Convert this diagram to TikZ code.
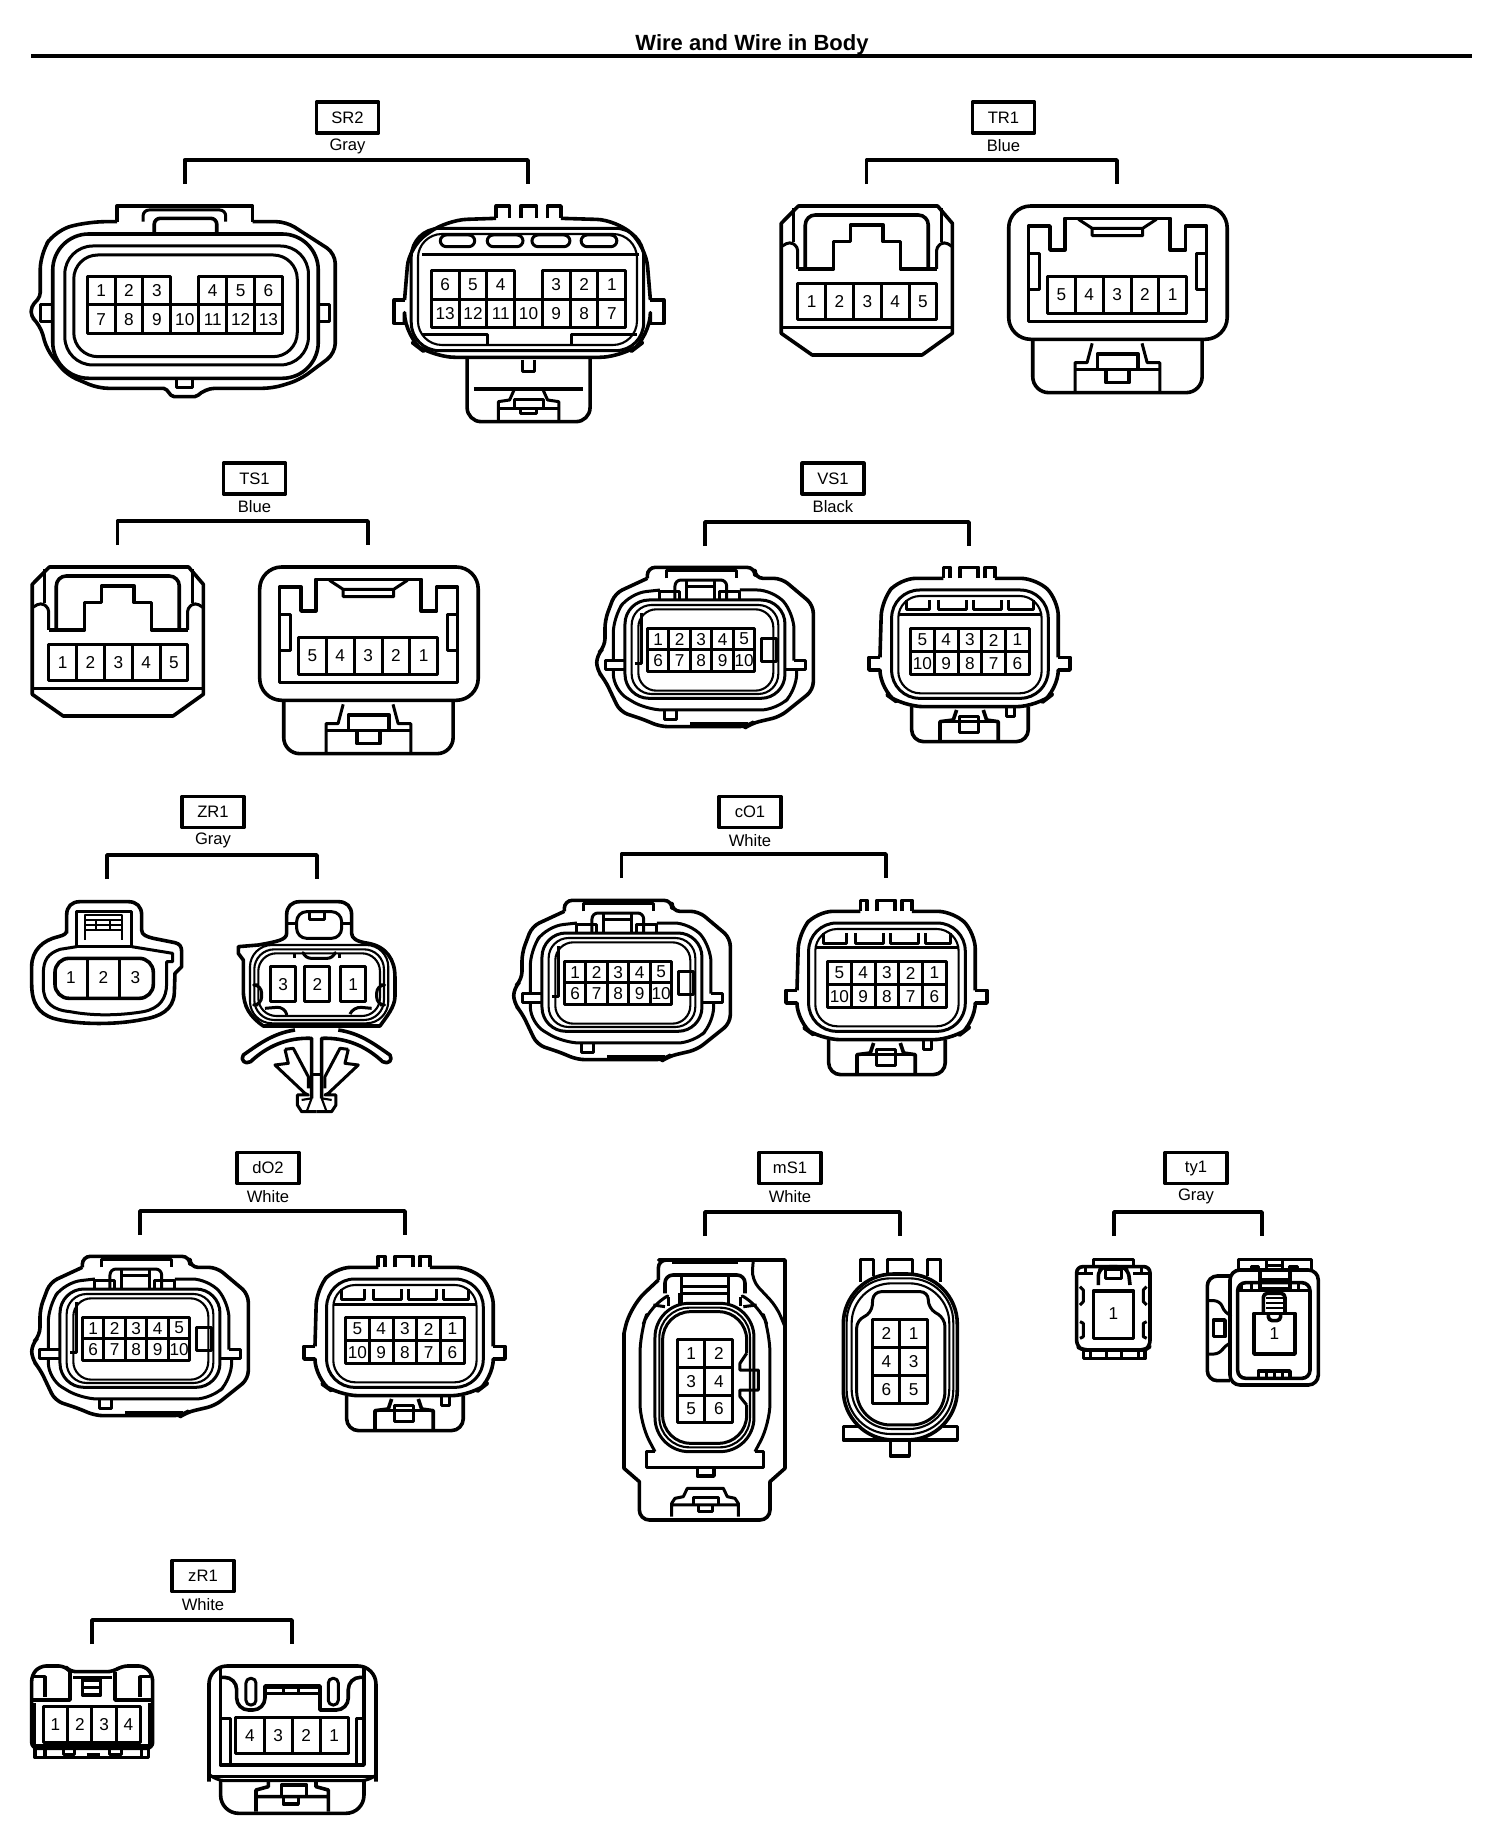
\documentclass[tikz,border=0pt]{standalone}
\usepackage{fontspec}
\setmainfont{Liberation Sans}
\usetikzlibrary{calc}
\newcounter{pinctr}
\def\skipmark{-}
\tikzset{
 every path/.append style={line join=round},
 ol/.style={draw=black,line width=1.8pt},
 tn/.style={draw=black,line width=1.5pt},
 tf/.style={draw=black,line width=1.05pt},
 barln/.style={draw=black,line width=1.9pt},
 lblbox/.style={draw=black,line width=1.6pt,minimum width=31pt,minimum height=15.5pt,inner sep=0pt,font=\fontsize{8.3}{10}\selectfont},
 coltxt/.style={inner sep=0pt,font=\fontsize{8.3}{10}\selectfont},
 pintxt/.style={inner sep=0pt,font=\fontsize{8.6}{10}\selectfont},
}
% id, label, colour, cx, box y, xl, xr, bar y
\newcommand\hdr[8]{%
 \node[lblbox] (#1) at (#4,#5) {#2};
 \node[coltxt] (#1c) at (#4,#5+28.5) {#3};
 \coordinate (#1l) at (#6,#8+24);
 \coordinate (#1r) at (#7,#8+24);
 \draw[barln] (#1l) -- ++(0,-24) -| (#1r);
}
% x0, cell width, y1, y2, list
\newcommand\pinrow[5]{%
 \foreach \t [count=\i] in {#5}{%
  \ifx\t\skipmark\else
  \pgfmathsetmacro\xa{#1+(\i-1)*#2}\pgfmathsetmacro\xb{\xa+#2}\pgfmathsetmacro\xm{\xa+#2/2}
  \stepcounter{pinctr}
  \draw[tn] (\xa,#3) rectangle (\xb,#4);
  \node[pintxt] (pin\arabic{pinctr}) at (\xm,{(#3+#4)/2}) {\t};
  \fi}}
\newcommand\rr[5]{\draw[ol,rounded corners=#5pt] (#1,#2) rectangle (#3,#4);}
\newcommand\rrt[5]{\draw[tn,rounded corners=#5pt] (#1,#2) rectangle (#3,#4);}
\newcommand\rrf[5]{\draw[tf,rounded corners=#5pt] (#1,#2) rectangle (#3,#4);}
\newcommand\bx[4]{\draw[tn] (#1,#2) rectangle (#3,#4);}

\newcommand\groupTR{%
 \begin{scope}[shift={(740,80)},xscale=0.3436,yscale=0.3333]
 % left
 \draw[ol] (170,378) -- (575,378) -- (618,430) -- (618,760) -- (530,825) -- (210,825) -- (120,760) -- (120,430) -- cycle;
 \draw[tn] (120,742) -- (618,742);
 \draw[ol,rounded corners=5pt] (190,565) -- (190,405) -- (548,405) -- (548,565);
 \draw[ol] (168,567) -- (272,567) -- (272,485) -- (322,485) -- (322,435) -- (417,435) -- (417,485) -- (467,485) -- (467,567) -- (572,567);
 \draw[tn,rounded corners=2pt] (168,567) -- (168,500) -- (145,485) -- (120,500);
 \draw[tn,rounded corners=2pt] (572,567) -- (572,500) -- (595,485) -- (618,500);
 \draw[tn] (155,385) -- (155,485) (585,385) -- (585,485);
 \pinrow{168}{81}{612}{718}{1,2,3,4,5}
 % right
 \rr{782}{378}{1418}{778}{11}
 \draw[ol] (840,725) -- (840,438) -- (902,438) -- (902,510) -- (945,510) -- (945,415) -- (1252,415) -- (1252,510) -- (1297,510) -- (1297,438) -- (1358,438) -- (1358,725) -- cycle;
 \draw[tn] (985,418) -- (1025,445) -- (1025,467) -- (1172,467) -- (1172,445) -- (1212,418) (1025,445) -- (1172,445);
 \draw[tn] (842,520) -- (872,520) -- (872,628) -- (842,628);
 \draw[tn] (1356,520) -- (1328,520) -- (1328,628) -- (1356,628);
 \pinrow{895}{81}{590}{700}{5,4,3,2,1}
 \draw[ol,rounded corners=8pt] (852,778) -- (852,938) -- (1345,938) -- (1345,778);
 \draw[tn] (975,938) -- (975,848) -- (1010,848) -- (1025,790);
 \draw[tn] (1222,938) -- (1222,848) -- (1185,848) -- (1170,790);
 \draw[tn] (975,870) -- (1222,870);
 \draw[ol] (1040,870) -- (1040,822) -- (1158,822) -- (1158,870);
 \draw[ol] (1065,870) -- (1065,908) -- (1132,908) -- (1132,870);
 \end{scope}}

\newcommand\groupVS{%
 \begin{scope}[shift={(570,450)},scale=0.3333]
 % left
 \draw[ol,rounded corners=4pt] (232,385) -- (232,352) -- (555,352) -- (555,385) -- (635,385) -- (730,465) -- (730,720) -- (630,800) -- (545,820) -- (530,830) -- (270,830) -- (225,810) -- (150,785) -- (105,690) -- (80,660) -- (80,615) -- (105,590) -- (105,510) -- (135,430) -- (232,385);
 \draw[tn,rounded corners=8pt] (130,632) -- (130,500) -- (180,430) -- (270,420);
 \draw[tn,rounded corners=8pt] (510,420) -- (610,420) -- (672,490) -- (672,632);
 \draw[tn,rounded corners=8pt] (130,660) -- (130,720) -- (230,780) -- (620,780) -- (680,720) -- (680,660);
 \draw[tn] (165,632) -- (105,632) -- (105,660) -- (165,660);
 \draw[tn] (672,632) -- (708,632) -- (708,660) -- (645,660);
 \rrt{165}{450}{645}{745}{12}
 \rrf{185}{465}{625}{732}{10}
 \rrf{205}{478}{610}{722}{9}
 \pinrow{232}{64.6}{535}{600}{1,2,3,4,5}
 \pinrow{232}{64.6}{600}{665}{6,7,8,9,10}
 \draw[ol] (575,565) -- (620,565) -- (620,635) -- (575,635) -- cycle;
 \draw[ol] (195,640) -- (215,640) -- (215,490);
 \draw[tn,rounded corners=3pt] (315,450) -- (315,390) -- (470,390) -- (470,450);
 \draw[tn] (350,390) -- (350,450) (435,390) -- (435,450) (350,410) -- (435,410);
 \draw[tn] (270,450) -- (270,425) -- (330,425) -- (330,450) (450,450) -- (450,425) -- (510,425) -- (510,450);
 \draw[tn] (285,780) -- (285,810) -- (320,810) -- (320,780);
 \draw[tn] (360,822) -- (535,822);
 \draw[tn] (290,385) -- (290,362) -- (500,362) -- (500,385);
 % right
 \draw[ol,rounded corners=8pt] (1120,385) -- (990,385) -- (935,450) -- (930,622);
 \draw[ol,rounded corners=8pt] (1275,385) -- (1400,385) -- (1465,450) -- (1465,622);
 \draw[ol] (930,622) -- (897,622) -- (897,660) -- (930,660);
 \draw[ol] (1465,622) -- (1500,622) -- (1500,660) -- (1465,660);
 \draw[ol,rounded corners=10pt] (930,660) -- (930,720) -- (1000,770) -- (1400,770) -- (1465,720) -- (1465,660);
 \draw[ol] (1120,385) -- (1120,352) -- (1140,352) -- (1140,385) (1170,385) -- (1170,352) -- (1225,352) -- (1225,385) (1245,385) -- (1245,352) -- (1275,352) -- (1275,385);
 \rrt{965}{420}{1435}{745}{14}
 \rrf{985}{438}{1415}{730}{11}
 \foreach \a/\b in {1010/1080,1105/1190,1210/1295,1315/1390}{\draw[tn] (\a,450) -- (\a,480) -- (\b,480) -- (\b,450);}
 \draw[tn] (985,495) -- (1415,495);
 \pinrow{1022}{71.2}{535}{605}{5,4,3,2,1}
 \pinrow{1022}{71.2}{605}{675}{10,9,8,7,6}
 \draw[ol,rounded corners=6pt] (1025,770) -- (1025,875) -- (1375,875) -- (1375,770);
 \draw[ol] (1110,875) -- (1110,815) -- (1150,810) -- (1160,780);
 \draw[ol] (1285,875) -- (1285,815) -- (1250,810) -- (1240,780);
 \draw[tn] (1170,848) -- (1170,800) -- (1225,800) -- (1225,848) -- cycle (1110,815) -- (1285,815);
 \draw[tn] (1310,770) -- (1310,800) -- (1335,800) -- (1335,770);
 \end{scope}}

\begin{document}
\begin{tikzpicture}[x=0.5pt,y=-0.5pt]
\useasboundingbox (0,0) rectangle (1504,1844);
\fill[white] (0,0) rectangle (1504,1844);
\node[inner sep=0pt,font=\bfseries\fontsize{11}{13}\selectfont] (title) at (752,45) {Wire and Wire in Body};
\coordinate (tl) at (31,56); \coordinate (tr) at (1472,56);
\draw[draw=black,line width=2.2pt] (tl) -- (tr);

\hdr{sr}{SR2}{Gray}{347.5}{117.5}{184.6}{528}{160}
\hdr{trh}{TR1}{Blue}{1003.5}{117.5}{866.5}{1117}{160}
\hdr{ts}{TS1}{Blue}{254.5}{478.5}{117.5}{368}{521}
\hdr{vs}{VS1}{Black}{833}{478.5}{705}{969}{522}
\hdr{zrb}{ZR1}{Gray}{213}{812}{107}{317}{855}
\hdr{co}{cO1}{White}{750}{812}{621.5}{886}{854}
\hdr{do}{dO2}{White}{268}{1168}{140}{405}{1211}
\hdr{ms}{mS1}{White}{790}{1168}{705}{900}{1212}
\hdr{ty}{ty1}{Gray}{1196}{1168}{1114}{1262}{1212}
\hdr{zrs}{zR1}{White}{203}{1576}{92}{292}{1620}

% SR2
\begin{scope}[shift={(0,80)},xscale=0.447,yscale=0.3333]
 \draw[ol] (262,425) -- (262,378) -- (565,378) -- (565,425);
 \draw[ol,rounded corners=5pt] (565,425) -- (640,425) -- (750,520) -- (750,820) -- (670,900) -- (610,925) -- (458,925) [rounded corners=1pt] -- (440,950) -- (385,950) -- (370,925) [rounded corners=5pt] -- (220,925) -- (150,885) -- (105,810) -- (90,735) [rounded corners=2pt] -- (70,710) -- (70,680) -- (90,650) [rounded corners=8pt] -- (90,520) -- (125,450) -- (200,425) -- (262,425);
 \draw[tn,rounded corners=3pt] (320,425) -- (320,390) -- (505,390) -- (505,425);
 \draw[ol,rounded corners=3pt] (345,462) -- (345,415) -- (485,415) -- (485,462);
 \rr{118}{462}{712}{895}{18}
 \rrt{145}{498}{690}{855}{14}
 \rrt{165}{525}{665}{830}{12}
 \pinrow{195}{62.4}{590}{675}{1,2,3,-,4,5,6}
 \pinrow{195}{62.4}{675}{762}{7,8,9,10,11,12,13}
 \draw[tn] (118,675) -- (90,675) -- (90,725) -- (118,725);
 \draw[tn] (712,675) -- (738,675) -- (738,725) -- (712,725);
 \draw[tn] (395,895) -- (395,922) -- (430,922) -- (430,895);
 % right
 \draw[ol,rounded corners=10pt] (1110,415) -- (1000,420) -- (915,500) -- (905,660);
 \draw[ol,rounded corners=10pt] (1255,415) -- (1380,420) -- (1445,500) -- (1455,660);
 \draw[ol] (905,660) -- (882,660) -- (882,730) -- (905,730) (1455,660) -- (1485,660) -- (1485,730) -- (1455,730);
 \draw[ol,rounded corners=12pt] (905,730) -- (905,770) -- (965,832) -- (1395,832) -- (1455,770) -- (1455,730);
 \draw[ol] (1110,415) -- (1110,378) -- (1140,378) -- (1140,415) (1165,415) -- (1165,378) -- (1200,378) -- (1200,415) (1225,415) -- (1225,378) -- (1255,378) -- (1255,415);
 \rrt{920}{445}{1440}{812}{14}
 \rrf{935}{462}{1425}{795}{12}
 \rrt{985}{465}{1062}{500}{3}
 \rrt{1090}{465}{1170}{500}{3}
 \rrt{1190}{465}{1275}{500}{3}
 \rrt{1300}{465}{1380}{500}{3}
 \draw[tn] (945,525) -- (1430,525);
 \pinrow{965}{62.1}{572}{658}{6,5,4,-,3,2,1}
 \pinrow{965}{62.1}{658}{742}{13,12,11,10,9,8,7}
 \draw[tn] (945,765) -- (1090,765) -- (1090,792) (1278,792) -- (1278,765) -- (1425,765);
 \draw[ol,rounded corners=7pt] (1045,832) -- (1045,1025) -- (1320,1025) -- (1320,832);
 \draw[tn] (1168,840) -- (1168,875) -- (1195,875) -- (1195,840);
 \draw[ol] (1060,927) -- (1305,927);
 \draw[tn] (1115,1022) -- (1115,965) -- (1140,960) -- (1150,930) (1250,1022) -- (1250,965) -- (1225,960) -- (1215,930);
 \draw[tn] (1115,985) -- (1250,985);
 \draw[tn] (1150,985) -- (1150,960) -- (1215,960) -- (1215,985) (1165,985) -- (1165,1000) -- (1200,1000) -- (1200,985);
\end{scope}

\groupTR
\begin{scope}[shift={(-749,361)}]\groupTR\end{scope}
\groupVS
\begin{scope}[shift={(-83,333)}]\groupVS\end{scope}
\begin{scope}[shift={(-565,689)}]\groupVS\end{scope}

% ZR1
\begin{scope}[shift={(10,790)},scale=0.3333]
 \draw[ol] (170,430) -- (170,375) .. controls (170,350) and (185,335) .. (210,335) -- (355,335) .. controls (380,335) and (395,350) .. (395,375) -- (395,420) .. controls (395,435) and (410,440) .. (430,445) -- (495,458) .. controls (510,462) and (515,470) .. (515,485) -- (515,530) -- (495,550) -- (493,610) .. controls (490,660) and (450,680) .. (400,688) .. controls (320,705) and (200,705) .. (130,685) .. controls (85,670) and (65,640) .. (65,580) -- (65,530) .. controls (65,480) and (100,450) .. (145,440) .. controls (165,435) and (170,430) .. (170,420);
 \draw[tn] (200,470) -- (150,478) .. controls (115,490) and (100,510) .. (100,550) -- (100,590) .. controls (100,640) and (130,660) .. (180,665) .. controls (260,680) and (340,675) .. (400,665) .. controls (450,655) and (470,625) .. (470,580) -- (470,515) -- (488,515) -- (488,490) -- (365,470);
 \draw[ol,rounded corners=7pt] (135,505) rectangle (430,625);
 \draw[tn] (232,505) -- (232,625) (330,505) -- (330,625);
 \node[pintxt] (zl1) at (183,562) {1};
 \node[pintxt] (zl2) at (280,562) {2};
 \node[pintxt] (zl3) at (376,562) {3};
 \draw[ol] (200,470) -- (200,365) -- (365,365) -- (365,470) -- cycle;
 \draw[tf] (225,450) -- (225,375) -- (335,375) -- (335,450) (225,390) -- (335,390) (225,405) -- (335,405) (225,420) -- (335,420) (258,390) -- (258,420) (300,390) -- (300,420);
 % right
 \draw[ol] (830,430) -- (830,375) .. controls (830,350) and (845,335) .. (870,335) -- (985,335) .. controls (1010,335) and (1025,350) .. (1025,375) -- (1025,430) .. controls (1025,445) and (1040,455) .. (1075,460) .. controls (1130,470) and (1155,510) .. (1155,560) -- (1155,620) .. controls (1155,650) and (1130,680) .. (1110,708) -- (760,708) .. controls (720,680) and (700,650) .. (700,600) -- (700,510) -- (685,490) -- (685,470) -- (745,465) .. controls (800,455) and (830,450) .. (830,430);
 \rrf{720}{465}{1135}{700}{11}
 \rrf{733}{478}{1122}{690}{10}
 \rrf{745}{490}{1110}{678}{9}
 \draw[tn,rounded corners=5pt] (860,445) -- (860,365) -- (995,365) -- (995,445) -- cycle;
 \draw[tn] (900,365) -- (900,388) -- (945,388) -- (945,365) (830,400) -- (860,400) (995,400) -- (1025,400);
 \draw[tn] (855,490) -- (855,505) (990,490) -- (990,505);
 \draw[tn,rounded corners=3pt] (880,490) -- (885,505) -- (970,505) -- (975,490);
 \draw[tn,rounded corners=4pt] (745,585) -- (755,585) -- (755,645) -- (745,645) (1110,585) -- (1100,585) -- (1100,645) -- (1110,645);
 \draw[tn,rounded corners=4pt] (765,655) -- (825,650) -- (830,672) (1020,672) -- (1030,650) -- (1085,655);
 \pinrow{782}{75}{530}{635}{3}
 \pinrow{885}{75}{530}{635}{2}
 \pinrow{992}{75}{530}{635}{1}
 % clip
 \foreach \m/\s in {0/1,1840/-1}{
 \begin{scope}[shift={(\m,0)},xscale=\s]
  \draw[ol] (855,720) .. controls (790,730) and (750,760) .. (700,795) .. controls (690,810) and (705,825) .. (722,815) .. controls (770,770) and (830,742) .. (905,745) -- (905,925);
  \draw[tn] (825,778) -- (850,775) -- (895,860) -- (895,895) (825,778) -- (835,820) -- (795,825) -- (885,910) -- (895,915) -- (862,915) -- (862,945) -- (875,965) -- (920,965);
  \draw[tf] (875,930) -- (905,925) -- (890,965);
 \end{scope}}
 \draw[tn] (905,855) -- (935,855);
\end{scope}

% mS1
\begin{scope}[shift={(600,1210)},scale=0.3333]
 \draw[ol,rounded corners=4pt] (175,210) -- (175,150) -- (200,150) [sharp corners] -- (555,150) -- (555,775) -- (510,815) [rounded corners=5pt] -- (510,930) -- (118,930) [sharp corners] -- (118,815) -- (72,775) -- (72,370) [rounded corners=10pt] -- (90,290) -- (175,210);
 \draw[tn,rounded corners=5pt] (460,150) -- (455,210) -- (530,290) -- (555,350);
 \draw[tn] (215,157) -- (415,157);
 \draw[ol,rounded corners=4pt] (195,250) -- (195,195) -- (435,195) -- (435,250);
 \draw[tn] (245,195) -- (245,280) (385,195) -- (385,280) (245,230) -- (385,230) (245,250) -- (385,250) (205,260) -- (205,288) (422,260) -- (422,288) (240,250) -- (240,285);
 \draw[tn,rounded corners=10pt] (165,725) -- (120,640) -- (120,370) -- (150,285) -- (195,262);
 \draw[tn,rounded corners=10pt] (465,725) -- (510,640) -- (510,370) -- (480,285) -- (435,262);
 \draw[tn] (160,285) -- (195,290) (470,285) -- (430,290);
 \draw[ol] (165,725) -- (140,725) -- (140,772) -- (490,772) -- (490,725) -- (465,725);
 \draw[ol] (292,772) -- (292,798) -- (342,798) -- (342,772);
 \rrt{165}{280}{462}{725}{17}
 \rrf{178}{293}{450}{712}{15}
 \draw[tn,rounded corners=14pt] (440,430) -- (440,305) -- (188,305) -- (188,700) -- (440,700) -- (440,585);
 \draw[tn] (440,430) -- (420,460) -- (420,480) -- (475,480) -- (475,540) -- (420,540) -- (420,560) -- (440,585);
 \pinrow{232}{83}{388}{472}{1,2}
 \pinrow{232}{83}{472}{555}{3,4}
 \pinrow{232}{83}{555}{637}{5,6}
 \draw[tn] (215,920) -- (215,880) -- (225,865) -- (250,860) -- (262,835) -- (370,835) -- (382,860) -- (405,865) -- (415,880) -- (415,920) (215,885) -- (415,885);
 \draw[tn] (280,885) -- (280,862) -- (355,862) -- (355,885) (295,885) -- (295,905) -- (338,905) -- (338,885);
 % right
 \draw[ol] (782,215) -- (782,148) -- (820,148) -- (820,198) (862,195) -- (862,148) -- (938,148) -- (938,195) (982,198) -- (982,148) -- (1022,148) -- (1022,215);
 \draw[ol,rounded corners=25pt] (730,192) rectangle (1072,690);
 \rrf{740}{205}{1060}{672}{22}
 \rrf{755}{220}{1048}{657}{20}
 \draw[tn,rounded corners=4pt] (900,245) -- (985,245) -- (985,295) -- (1035,325) [rounded corners=17pt] -- (1035,645) -- (770,645) [rounded corners=4pt] -- (770,330) -- (815,310) -- (820,245) -- (900,245);
 \pinrow{818}{82}{328}{412}{2,1}
 \pinrow{818}{82}{412}{497}{4,3}
 \pinrow{818}{82}{497}{580}{6,5}
 \draw[ol] (775,650) -- (730,650) -- (730,690) -- (1072,690) -- (1072,650) -- (1030,650);
 \draw[ol] (872,690) -- (872,738) -- (928,738) -- (928,690);
\end{scope}

% ty1
\begin{scope}[shift={(1050,1210)},scale=0.3333]
 \draw[ol,rounded corners=3pt] (80,170) -- (300,170) -- (300,410) -- (285,420) -- (100,420) -- (80,410) -- cycle;
 \draw[ol] (130,170) -- (130,148) -- (250,148) -- (250,170);
 \draw[tn] (80,190) -- (130,190) (250,190) -- (300,190) (105,170) -- (105,190) (275,170) -- (275,190);
 \draw[ol,rounded corners=3pt] (145,225) -- (145,180) -- (165,170) -- (215,170) -- (235,180) -- (240,225);
 \bx{165}{178}{215}{205}
 \draw[ol] (130,243) rectangle (250,385);
 \node[pintxt] (ty1a) at (190,312) {1};
 \draw[tn] (90,230) -- (100,240) -- (100,275) -- (90,285) (90,335) -- (100,340) -- (100,380) -- (90,385) (290,230) -- (280,240) -- (280,275) -- (290,285) (290,335) -- (280,340) -- (280,380) -- (290,385);
 \draw[ol] (100,422) rectangle (285,445);
 \draw[tn] (120,422) -- (120,445) (170,422) -- (170,445) (215,422) -- (215,445) (265,422) -- (265,445);
 % right
 \draw[ol,rounded corners=5pt] (540,180) rectangle (805,525);
 \draw[ol] (565,180) -- (565,148) -- (785,148) -- (785,180);
 \draw[tn] (605,180) -- (605,170) -- (625,170) -- (625,180) (720,180) -- (720,170) -- (742,170) -- (742,180) (650,148) -- (650,180) (698,148) -- (698,180) (650,165) -- (698,165);
 \draw[ol,rounded corners=4pt] (563,505) rectangle (780,218);
 \draw[ol] (630,180) -- (630,235) -- (720,235) -- (720,180) (630,210) -- (720,210);
 \draw[tn] (575,218) -- (575,240) -- (605,240) -- (605,218) (720,240) -- (745,240) -- (745,218);
 \draw[tn] (563,240) -- (780,240);
 \draw[ol] (612,310) rectangle (735,432);
 \draw[ol,rounded corners=2pt] (640,310) -- (640,250) -- (705,250) -- (705,310) (655,310) -- (655,332) -- (692,332) -- (692,310);
 \draw[tf] (648,265) -- (698,265) (648,280) -- (698,280) (648,295) -- (698,295);
 \node[pintxt] (ty1b) at (673,372) {1};
 \draw[ol] (625,505) -- (625,483) -- (720,483) -- (720,505);
 \draw[tn] (650,483) -- (650,505) (675,483) -- (675,505) (698,483) -- (698,505);
 \draw[ol,rounded corners=5pt] (540,198) -- (472,198) -- (472,512) -- (540,512);
 \draw[tn,rounded corners=3pt] (475,272) -- (510,272) -- (525,310) -- (540,315) (540,400) -- (525,405) -- (510,432) -- (475,432);
 \draw[ol] (490,330) rectangle (525,380);
\end{scope}

% zR1
\begin{scope}[shift={(10,1600)},scale=0.3333]
 \draw[ol,rounded corners=3pt] (65,445) -- (65,225) -- (90,198) -- (165,198) -- (180,215) -- (310,215) -- (335,198) -- (405,198) -- (428,225) -- (428,445) -- cycle;
 \draw[ol] (75,445) -- (75,472) -- (415,472) -- (415,445) (105,450) -- (105,472) (395,450) -- (395,472);
 \draw[tn] (160,450) -- (160,462) -- (195,462) -- (195,450) (300,450) -- (300,462) -- (335,462) -- (335,450) (230,462) -- (270,462);
 \draw[ol] (70,230) -- (105,230) -- (105,290) (420,230) -- (390,230) -- (390,290);
 \draw[ol] (180,215) -- (180,300) -- (65,300) (315,215) -- (315,300) -- (428,300);
 \draw[tn] (190,232) -- (305,232) (75,310) -- (75,435) (418,310) -- (418,435) (65,436) -- (428,436);
 \draw[ol] (218,285) -- (218,240) -- (272,240) -- (272,285) -- cycle;
 \draw[tn] (218,262) -- (272,262);
 \pinrow{100}{73}{318}{428}{1,2,3,4}
 % right
 \draw[ol,rounded corners=9pt] (597,545) -- (597,198) -- (1098,198) -- (1098,545);
 \draw[tn,rounded corners=4pt] (597,530) -- (1098,530);
 \draw[tn,rounded corners=4pt] (600,525) -- (620,542) -- (1078,542) -- (1098,525);
 \draw[ol] (632,205) -- (632,495) -- (1062,495) -- (1062,205);
 \draw[ol,rounded corners=6pt] (632,232) -- (680,232) -- (680,330) -- (765,330) [sharp corners] -- (765,258) -- (930,258) -- (930,330) [rounded corners=6pt] -- (1015,330) -- (1015,232) -- (1062,232);
 \draw[tn,rounded corners=2.3pt] (708,235) rectangle (738,315);
 \draw[tn,rounded corners=2.3pt] (955,235) rectangle (985,315);
 \draw[tn] (765,262) -- (930,262) (765,280) -- (930,280) (820,262) -- (820,280) (865,262) -- (865,280);
 \draw[tn] (632,355) -- (662,355) -- (662,490) (1062,355) -- (1040,355) -- (1040,490);
 \pinrow{678}{84.2}{352}{460}{4,3,2,1}
 \draw[ol,rounded corners=9pt] (632,542) -- (632,640) -- (1062,640) -- (1062,542);
 \draw[ol] (738,635) -- (738,570) -- (775,560) -- (775,538) (955,635) -- (955,570) -- (918,560) -- (918,538) (738,590) -- (955,590);
 \draw[ol] (815,590) -- (815,555) -- (890,555) -- (890,590) (820,590) -- (820,612) -- (865,612) -- (865,590);
\end{scope}
\end{tikzpicture}
\end{document}
